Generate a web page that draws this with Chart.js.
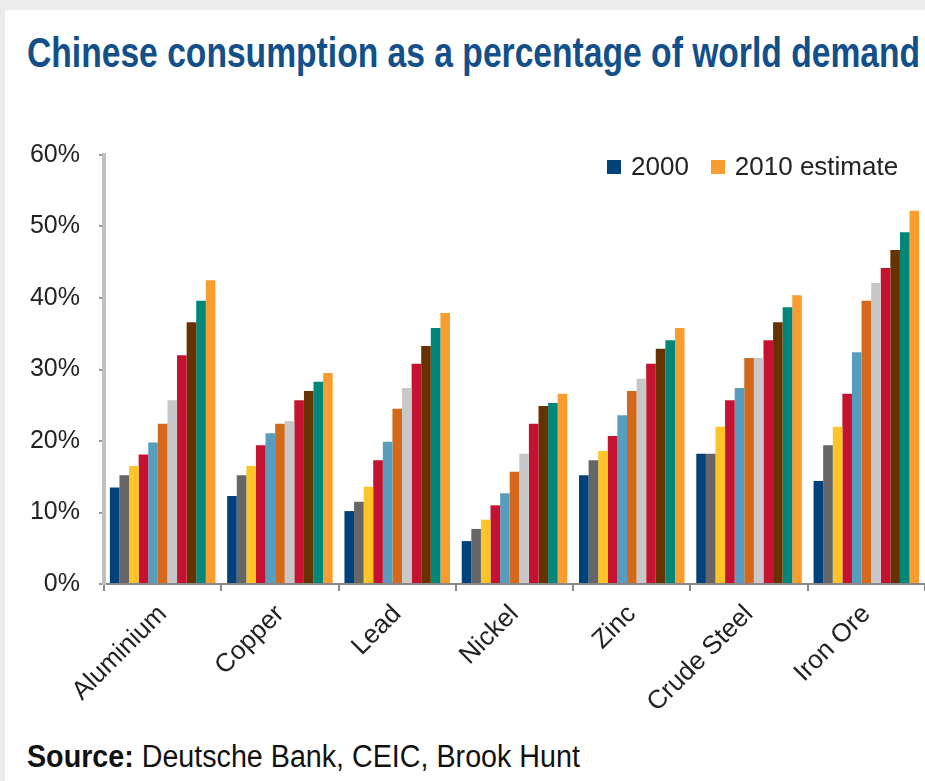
<!DOCTYPE html>
<html>
<head>
<meta charset="utf-8">
<script src="https://cdn.jsdelivr.net/npm/chart.js@4"></script>
<style>
    body { margin: 0; background: #ececec; width: 925px; height: 781px; overflow: hidden; }
    #panel { position: absolute; left: 5px; top: 10px; width: 920px; height: 771px; background: #fff; }
    #title { position: absolute; left: 27px; top: 31px; font: bold 43px "Liberation Sans Narrow", "Liberation Sans", sans-serif; line-height: 43px; color: #13508a; white-space: nowrap; transform-origin: left top; }
    #source { position: absolute; left: 27px; top: 741px; font: 31px "Liberation Sans Narrow", "Liberation Sans", sans-serif; line-height: 31px; color: #111; white-space: nowrap; transform-origin: left top; }
    #chartBox { position: absolute; left: 0; top: 130px; width: 925px; height: 600px; }
    #legend { position: absolute; left: 607px; top: 151px; font: 26px "Liberation Sans", sans-serif; color: #222; white-space: nowrap; }
    #legend span.box { display: inline-block; width: 14px; height: 14px; margin-right: 10px; vertical-align: 1px; }
    #legend span.item { margin-right: 22px; }
</style>
</head>
<body>
<div id="panel"></div>
<div id="title">Chinese consumption as a percentage of world demand</div>
<div id="chartBox"><canvas id="consumption"></canvas></div>
<div id="legend"></div>
<div id="source"><b>Source:</b> Deutsche Bank, CEIC, Brook Hunt</div>

<script>
// Categories and per-year shares (% of world demand).
const metals = ["Aluminium", "Copper", "Lead", "Nickel", "Zinc", "Crude Steel", "Iron Ore"];
const years = ["2000", "2001", "2002", "2003", "2004", "2005", "2006", "2007", "2008", "2009", "2010 estimate"];

const y2000 = [13.5, 12.3, 10.2, 6.0, 15.2, 18.2, 14.4];
const y2001 = [15.2, 15.2, 11.5, 7.7, 17.3, 18.2, 19.4];
const y2002 = [16.5, 16.5, 13.6, 9.0, 18.6, 22.0, 22.0];
const y2003 = [18.1, 19.4, 17.3, 11.0, 20.7, 25.7, 26.6];
const y2004 = [19.8, 21.1, 19.9, 12.7, 23.6, 27.4, 32.4];
const y2005 = [22.4, 22.4, 24.5, 15.7, 27.0, 31.6, 39.6];
const y2006 = [25.7, 22.8, 27.4, 18.2, 28.7, 31.6, 42.1];
const y2007 = [32.0, 25.7, 30.8, 22.4, 30.8, 34.1, 44.2];
const y2008 = [36.6, 27.0, 33.3, 24.9, 32.9, 36.6, 46.7];
const y2009 = [39.6, 28.3, 35.8, 25.3, 34.1, 38.7, 49.2];
const y2010 = [42.5, 29.5, 37.9, 26.6, 35.8, 40.4, 52.2];

const yTicks = [0, 10, 20, 30, 40, 50, 60];

const colors = ["#00427a", "#666666", "#ffc425", "#c41230", "#579dc0", "#d2691b",
                "#c8c8ca", "#c41230", "#663300", "#00877a", "#f99d31"];

// Only the first and last year appear in the legend.
const legendYears = [0, 10];

function fitWidth(id, width) {
    const el = document.getElementById(id);
    el.style.transform = "scaleX(" + (width / el.scrollWidth) + ")";
}

function buildLegend() {
    const legend = document.getElementById("legend");
    legendYears.forEach((i) => {
        const item = document.createElement("span");
        item.className = "item";
        item.innerHTML = '<span class="box" style="background:' + colors[i] + '"></span>' + years[i];
        legend.appendChild(item);
    });
}

fitWidth("title", 893);
fitWidth("source", 553);
buildLegend();

const series = [y2000, y2001, y2002, y2003, y2004, y2005, y2006, y2007, y2008, y2009, y2010];

new Chart(
    document.getElementById("consumption"),
    {
        type: "bar",
        data: {
            labels: metals,
            datasets: series.map((values, i) => ({
                label: years[i],
                data: values,
                backgroundColor: colors[i],
                borderWidth: 0,
                categoryPercentage: 0.9,
                barPercentage: 1.0
            }))
        },
        options: {
            responsive: true,
            maintainAspectRatio: false,
            animation: false,
            layout: { padding: { top: 25, right: 0, left: 0, bottom: 0 } },
            plugins: {
                legend: { display: false },
                tooltip: { enabled: false }
            },
            scales: {
                x: {
                    grid: { drawOnChartArea: false, offset: true, tickLength: 7, color: "#888", lineWidth: 2 },
                    border: { color: "#888", width: 2 },
                    ticks: {
                        autoSkip: false,
                        minRotation: 45,
                        maxRotation: 45,
                        padding: 8,
                        color: "#222",
                        font: { family: "Liberation Sans", size: 26 }
                    },
                    afterFit: (scale) => { scale.height = 146; }
                },
                y: {
                    min: 0,
                    max: 60,
                    afterBuildTicks: (scale) => { scale.ticks = yTicks.map((v) => ({ value: v })); },
                    grid: { drawOnChartArea: false, tickLength: 5, color: "#999", lineWidth: 2 },
                    border: { color: "#c0c0c0", width: 4 },
                    ticks: {
                        padding: 19,
                        color: "#222",
                        font: { family: "Liberation Sans", size: 25 },
                        callback: (v) => v + "%"
                    },
                    afterFit: (scale) => {
                        scale.width = 104;
                        // the tick padding would otherwise push the plot top down
                        scale.paddingTop = 0;
                        scale.paddingBottom = 0;
                    }
                }
            }
        }
    }
);
</script>
</body>
</html>
